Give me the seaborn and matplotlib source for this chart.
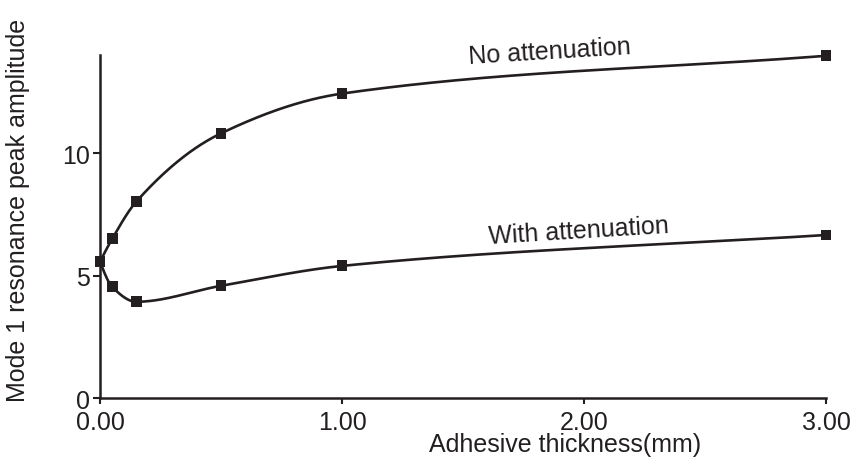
import numpy as np
import pandas as pd
import matplotlib
matplotlib.use("Agg")
import matplotlib.pyplot as plt
import seaborn as sns

# ---- data ----
thickness = [0.0, 0.05, 0.15, 0.5, 1.0, 3.0]
no_attenuation = [5.57, 6.50, 8.02, 10.80, 12.42, 13.96]
with_attenuation = [5.57, 4.55, 3.94, 4.59, 5.40, 6.66]
x_ticks = [0, 1, 2, 3]
x_tick_labels = ["0.00", "1.00", "2.00", "3.00"]
y_ticks = [0, 5, 10]
y_tick_labels = ["0", "5", "10"]


def smooth(x, y, xn):
    """Shape-preserving cubic Hermite through the points."""
    x = np.asarray(x, float)
    y = np.asarray(y, float)
    h = np.diff(x)
    d = np.diff(y) / h
    n = len(x)
    m = np.zeros(n)
    for k in range(1, n - 1):
        if d[k - 1] * d[k] > 0:
            w1 = 2 * h[k] + h[k - 1]
            w2 = h[k] + 2 * h[k - 1]
            m[k] = (w1 + w2) / (w1 / d[k - 1] + w2 / d[k])
    m[0] = ((2 * h[0] + h[1]) * d[0] - h[0] * d[1]) / (h[0] + h[1])
    if np.sign(m[0]) != np.sign(d[0]):
        m[0] = 0
    m[-1] = d[-1]
    out = np.empty_like(xn)
    for i, xv in enumerate(xn):
        k = int(np.clip(np.searchsorted(x, xv, side="right") - 1, 0, n - 2))
        t = (xv - x[k]) / h[k]
        h00 = 2 * t**3 - 3 * t**2 + 1
        h10 = t**3 - 2 * t**2 + t
        h01 = -2 * t**3 + 3 * t**2
        h11 = t**3 - t**2
        out[i] = h00 * y[k] + h10 * h[k] * m[k] + h01 * y[k + 1] + h11 * h[k] * m[k + 1]
    return out


sns.set_theme(style="ticks")
plt.rcParams["font.family"] = ["Liberation Sans", "DejaVu Sans"]
FS = 18
INK = "#231f20"

fig = plt.figure(figsize=(8.63, 4.77), dpi=100)
ax = fig.add_axes([0.1159, 0.1625, 0.8412, 0.7205])

xs = np.linspace(0, 3, 900)
curves = pd.DataFrame({
    "x": np.concatenate([xs, xs]),
    "y": np.concatenate([smooth(thickness, no_attenuation, xs),
                         smooth(thickness, with_attenuation, xs)]),
    "series": ["No attenuation"] * len(xs) + ["With attenuation"] * len(xs),
})
points = pd.DataFrame({
    "x": thickness + thickness,
    "y": no_attenuation + with_attenuation,
    "series": ["No attenuation"] * len(thickness) + ["With attenuation"] * len(thickness),
})

pal = {"No attenuation": INK, "With attenuation": INK}
sns.lineplot(data=curves, x="x", y="y", hue="series", palette=pal, ax=ax,
             linewidth=1.9, legend=False, sort=False, estimator=None)
sns.scatterplot(data=points, x="x", y="y", hue="series", palette=pal, ax=ax,
                marker="s", s=62, linewidth=0, legend=False, zorder=5,
                clip_on=False)

ax.set_xlim(0, 3)
ax.set_ylim(0, 14)
ax.set_xticks(x_ticks)
ax.set_xticklabels(x_tick_labels)
ax.set_yticks(y_ticks)
ax.set_yticklabels(y_tick_labels)
ax.tick_params(axis="both", labelsize=FS, colors=INK, width=1.5, length=5,
               direction="out", pad=2)
ax.tick_params(axis="x", length=4, pad=4)
for s in ["top", "right"]:
    ax.spines[s].set_visible(False)
for s in ["left", "bottom"]:
    ax.spines[s].set_linewidth(1.8)
    ax.spines[s].set_color(INK)

ax.set_xlabel("Adhesive thickness(mm)", fontsize=FS, color=INK)
ax.xaxis.set_label_coords(0.64, -0.098)
ax.set_ylabel("Mode 1 resonance peak amplitude", fontsize=FS, color=INK)
ax.yaxis.set_label_coords(-0.097, 0.55)

ax.text(1.86, 14.15, "No attenuation", fontsize=FS, color=INK,
        rotation=3.5, ha="center", va="center", clip_on=False)
ax.text(1.98, 6.85, "With attenuation", fontsize=FS, color=INK,
        rotation=3.5, ha="center", va="center")

fig.savefig("out.png", dpi=100)
